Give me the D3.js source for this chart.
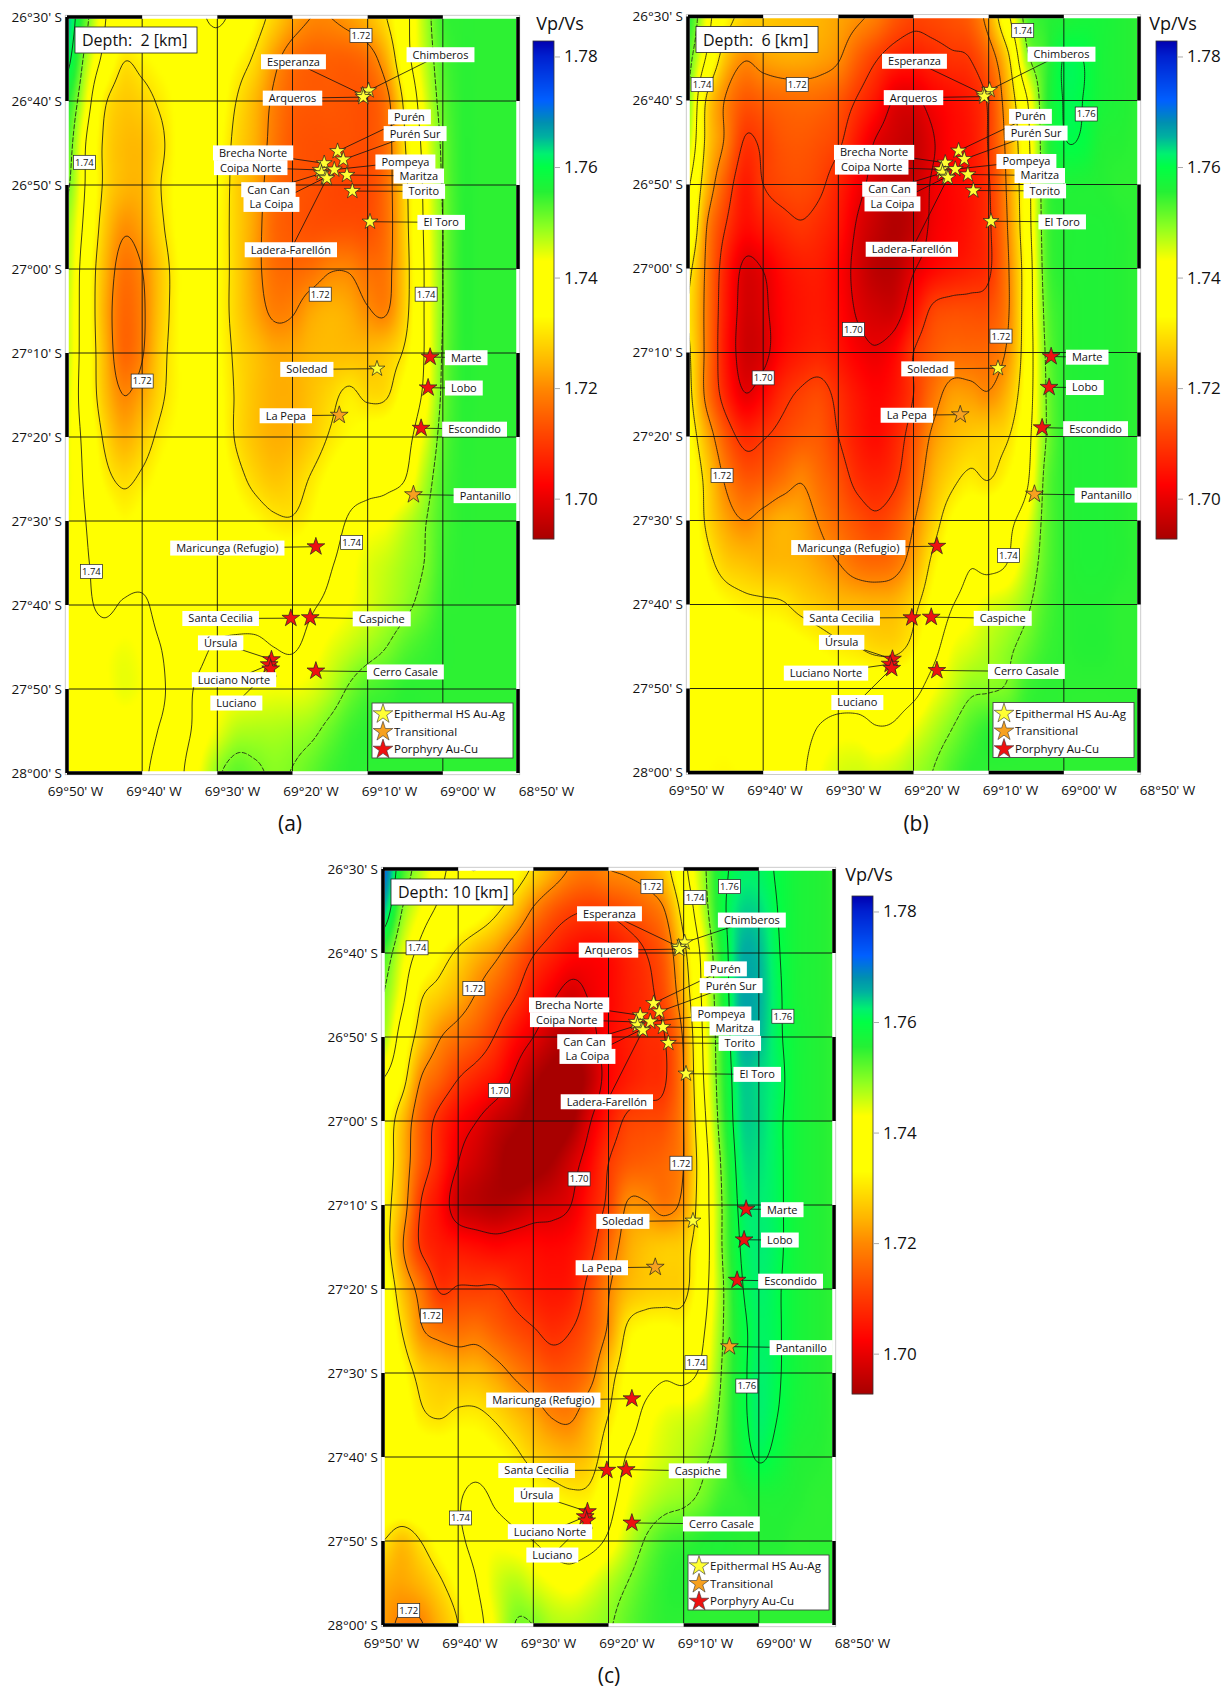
<!DOCTYPE html>
<html>
<head>
<meta charset="utf-8">
<script src="https://cdn.jsdelivr.net/npm/d3@7"></script>
<style>
  body { margin: 0; background: #fff; }
  text { font-family: "Open Sans", sans-serif; fill: #111; }
</style>
</head>
<body>
<svg id="fig" width="1231" height="1688"></svg>
<script>
// Vp/Vs, in thousandths above 1.700
// rows: 26°30' S to 28°00' S every 5', columns: 69°50' W to 68°50' W every 2.5'
const vpvsA = [
  [65,52,40.5,38,37,37,37.5,39,41,38,33,28,23,20,20,22,25,30,38,47,54,55,55,55,55],
  [62,48,38,30.5,32,34,35,36,36,33,29,22,17,15,15,15,17,24,37,46,53,55,55,55,55],
  [56,44,31,27,28,31,34,35,35,30,25,19,15,14,14,13.5,13.5,18,32,44,52,55,55,55,55],
  [53,40,29,25.5,25.5,29,34,35,34,28.5,24,18,14,13,13,13,13,17,30,42,51,55,55,55,55],
  [51,39.5,29,25,25,30,34,35,33.5,28,23,17,14,13,12,11.5,12,17,28.5,41,50.5,55,55,55,55],
  [48,38,27,21,23,29,34,35,33,28,22.5,16,14,13,13,13,13,17,28,40.5,50,55,55,55,55],
  [47,36,25,17.5,20,27,33,35,33,28,22,17,16,17,19.5,19.5,17,18,27.5,40,50,55,55,55,55],
  [46,36,24,16,19,27,33,35,33,28,23,19,19.5,23,24.5,23.5,20.5,19.5,28,40,50,55,55,55,55],
  [46,36,25,16,19.5,28,33,35,33.5,29,26,23.5,23.5,25,25.5,25.5,25.5,27,31,40,50.5,55,55,55,55],
  [45,36,26,20,23,29,33,35,34,29.5,26,24,24,26,28.5,31,29,29.5,35,41,51,55,55,55,55],
  [44,38,29,24,27,31.5,34,35.5,34.5,29.5,26,24,24.5,27,30.5,33,35,36,38,44,52,55,55,55,55],
  [44,39,32,29,31,34,36,37,36,32,28.5,26.5,27.5,30.5,34,37,38,38.5,40,47,53,55,55,55,55],
  [43.5,40,36,33,34.5,36,37,38,37.5,35,33,31,30.5,33,37,40.5,42,43,46,49.5,53.5,55,55,55,55],
  [43,40.5,38,37,37,37,37.5,38,38,37.5,36.5,36,36,37.5,39.5,42,44.5,46,48,50,54,55,55,55,55],
  [43,41,39,40.5,41,38,37.5,37.5,37.5,37.5,37.5,37.5,38,39.5,41,43,45,47,49,51.5,54.5,55,55,55,55],
  [42.5,42.5,42.5,43.5,42.5,40,38,39,40.5,41,41,40,39.5,41.5,44,46,48,50,52.5,54,55,55,55,55,55],
  [41.5,41.5,42.5,44,43,40.5,39,40.5,42,42.5,43,43.5,43.5,44.5,47,50.5,53,54,55,55,55,55,55,55,55],
  [41,41,41,41.5,41,39.8,39,41,44,47,47.5,47.5,48,49,51.5,54,55,55,55,55,55,55,55,55,55],
  [41,41,41,41,40.3,39.5,39.5,43,49,52,50.8,49.5,50.2,52,54,55,55,55,55,55,55,55,55,55,55]
];
const vpvsB = [
  [56,43,33,28,27,26,25.5,24.5,23,21,18.5,14,11.5,12,13,15,23,38,52,55,56,57,57,56,55],
  [52,39,26,20.5,22.5,23.5,23.5,22.5,20.5,15,10.5,7,6,7.5,9,10,16,28,48,54,60.2,60,57,56,55],
  [50,29,19.5,14,15,16,16.5,16,14,9.5,5,-0.5,-1,2,4,6,11,24,39,54,60.2,60,57,56,55],
  [47,28,19,9.5,11,13.5,14,13,11,5,-0.5,-3,-4,-0.5,3,5,10.5,22,37,53.5,59.6,59.4,56,55.5,55],
  [41,25,14,6,10,12,12.5,11,7,2,-2,-4.5,-3.5,0.5,3,5,9.5,21,36,53,56,56,55.5,55,55],
  [39,20,10,4,6,8,9.5,8,5,-0.5,-4,-6,-4,1,3,5,9,20,35.5,52.5,55.5,56,56,55.5,55],
  [32,18.5,6.5,-1,0.2,4,6,6,3,-1.5,-5,-5,-0.5,3,5,6.5,9,19,34,52,55.5,56,56,55.5,55],
  [30,18,5.5,-2,-1,3,5,5.5,3.5,-0.5,-2.5,-2.5,4,11,12.5,12.5,13,19,34,51,55,56,56,55.5,55],
  [31,18,5,-2.5,-1.5,3.5,6,7,5,2,0.5,3,10,14,16,16,16.5,21,34,50,55,56,56,55.5,55],
  [32,18,7,0.3,3,8,10.8,12,8.5,5,3,5,10,17,22,22,20.5,25,35,49.5,55,56,56,55.5,55],
  [34,24,14,8,9.5,12,14,14,10,6,4,7,13,21,25,27,28,29.5,37,49.5,55,56,56,55.5,55],
  [36,28,19,14,14.5,17,19.5,16.5,13,8.5,7,9,15.5,24,28.5,31,29.8,33,38.5,51,55,56,56,55.5,55],
  [37,29,23,20,22,24,23,19.5,16,13,11,13.5,19.5,27,33,36,37,38.5,43,51.5,55,56,56,55.5,55],
  [38,32,27.5,26,25,25,24.5,22.5,20,17,16,17.5,23,31,36,39.5,38.5,40,46,52,55,56,56,55.5,55],
  [38,35,33,31.5,31,30.5,28.5,27,25.5,25,24.5,25,28.5,34,39.5,42,44.5,46,49,53,55,55.5,55.5,55,55],
  [37.5,37,37,36,35,35,34,32.5,31,30,28.5,28.5,31.5,37.5,43,45,47,49,51.5,54,55,55.5,55.5,55,55],
  [35,35,35.5,36,36,36,36.5,36.5,36.5,36.5,36.5,36.5,38,42.5,46,49,49.5,50.5,54,55,55,55,55,55,55],
  [34,34,34,35,36,37,38,40.5,42,42,40.5,41,44,47,50,53,55,55,55,55,55,55,55,55,55],
  [34,33,32.5,33.5,35,37,39,43,45,45.5,45,46,48,50,53,55,55,55,55,55,55,55,55,55,55]
];
const vpvsC = [
  [72,55,47,41,39.5,40,37,34,29,24,19.5,18,20,21,23,27.5,38,48,58,61.5,61.5,59.5,57,56,55],
  [65,50,43,39,37,35,31,26,19,14,11,10,11,13,15.5,20,33,46,58,63.5,63.5,60,57,56,55],
  [54,45,38,33,29,25,21.5,16,10.5,7,4,3,4,7,10,15,28,42,56,65,65,60.5,57,56,55],
  [50,42,31,27.5,24,19.5,15,10.5,5,1,-2,0.5,3,6,8.5,13,25,41,55,65.5,65.5,61,57,56,55],
  [48,37,27,20.5,17,14,9.5,4,0,-4,-6,-2,3,6,8,10,21,40,54,65,65,61,57.5,56,55],
  [40,33,20,15,10,7,4,-1,-6,-9,-10,-5,2.5,6,8,9.5,20,39,53.5,63.5,63.5,61.5,57.5,56,55],
  [35,26,15,8,3,0,-3.5,-6,-9,-11,-8,-0.5,6,11,12,13,20,37,52.5,63,63.5,61,57.5,56,55],
  [35,25,14,7,0,-3,-6,-9,-9,-7,-2.5,3,10,14,15,16,20,35,50.5,62,63,61,57.5,56,55],
  [33,24,10,4,-3,-5,-6,-5,-3,-2,0,5.5,11.5,20.5,20.5,18,22,35,49.5,61,62.5,61,57.5,56,55],
  [34,21,9.5,6,5,4,3,3.5,3.5,3,4,8,16,23,26,27,28,35,49.5,60,62.5,61,57.5,56,55],
  [37,26,17.5,9.5,10.5,10.5,10.5,8,6,5,6,12,19.5,25,27,27.5,28.5,36.5,48.5,59,62,60.5,57.5,56,55],
  [38.5,30,21,18,17,17.5,15,12.5,10.5,8.5,10,14,21,31,33.5,34,33.5,39,49,58,61.5,60.5,57.5,56,55],
  [39,34,28,26,25,25,22.5,19,16,13.5,14,17.5,27,33.5,37,39,38,41.5,50,58,62,60.5,57.5,56,55],
  [39,36,31,29.5,31,31,29,26,23,19.5,19,24,30,36,41.5,44,45,46.5,51,58,62,60,57,56,55],
  [38.5,37,36,36,36,36,34,31.5,28,26,25,27,34,40.5,43.5,45.5,47,49,52,57,60.5,58.5,56,55.5,55],
  [38,38,38,38.5,39.5,42,39,37,35,33,31.5,32,37.5,43,46,48,49,51,54,55,56,56,55.5,55,55],
  [30,26,30,34.5,38.5,42,42.5,41.5,40,38,37.5,38,41,46,50.5,53.5,54.5,55.5,56,55.5,55.5,55.5,55,55,55],
  [24,23,25,29,34,40,45,47,45,43,42,44,47,50,53,55,55.5,55,55,55,55,55,55,55,55],
  [22,19,19.5,24.5,30,37.5,44,50,50,47.5,47,48,49.5,52,54,55,55,55,55,55,55,55,55,55,55]
];

// deposits: lon in minutes west of 69°, lat in minutes south of 26°
const siteNames = ["Chimberos","Esperanza","Arqueros","Purén","Purén Sur","Brecha Norte","Coipa Norte","Can Can","La Coipa","Pompeya","Maritza","Torito","El Toro","Ladera-Farellón","Soledad","Marte","Lobo","La Pepa","Escondido","Pantanillo","Maricunga (Refugio)","Santa Cecilia","Caspiche","Úrsula","Luciano Norte","Luciano","Cerro Casale"];
const siteLon  = [9.87,10.67,10.58,14,13.24,15.78,16.31,16.13,15.56,14.44,12.76,12.04,9.69,15.42,8.76,1.69,1.96,13.78,2.89,3.91,16.89,20.22,17.64,22.8,23.1,22.9,16.89];
const siteLat  = [38.75,39.26,39.54,45.98,46.98,47.42,48.21,48.61,49.09,48.17,48.81,50.72,54.37,49.2,71.87,70.48,74.14,77.4,78.95,86.86,93.06,101.57,101.5,106.5,107.1,107.6,107.85];
const siteType = ["E","E","E","E","E","E","E","E","E","E","E","E","E","E","E","P","P","T","P","T","P","P","P","P","P","P","P"];
// where each name tag sits, same units
const tagLon = [0.31,19.87,20,4.44,3.69,25.24,25.56,23.2,22.8,4.98,3.2,2.53,0.22,20.22,18.09,-3.11,-2.8,20.89,-4.22,-5.64,28.67,29.56,8.13,29.56,27.78,27.47,4.98];
const tagLat = [34.49,35.33,39.66,41.89,43.88,46.18,47.93,50.56,52.31,47.26,48.93,50.76,54.45,57.71,71.95,70.56,74.17,77.47,79.07,86.98,93.22,101.61,101.65,104.51,108.89,111.67,107.97];

const typeNames = ["Epithermal HS Au-Ag","Transitional","Porphyry Au-Cu"];
const typeKeys = ["E","T","P"];
const typeFill = {E: "#ffff33", T: "#f7a11f", P: "#ee1111"};

// contour tags per panel: level, lon, lat
const tagsA = [[1.72,10.89,32.19],[1.74,47.69,47.3],[1.72,16.31,63],[1.74,2.22,63],[1.72,40,73.34],[1.74,12.13,92.55],[1.74,46.76,96]];
const tagsB = [[1.74,48.13,38.11],[1.72,35.47,38.11],[1.76,-2.98,41.61],[1.74,5.47,31.67],[1.7,28,67.26],[1.72,8.36,68.05],[1.7,40,73.02],[1.72,45.47,84.63],[1.74,7.38,94.17]];
const tagsC = [[1.72,14.22,32.1],[1.76,3.91,32.1],[1.74,8.49,33.38],[1.74,45.47,39.38],[1.72,37.91,44.23],[1.76,-3.2,47.53],[1.7,34.49,56.36],[1.72,10.36,65.03],[1.7,23.91,66.9],[1.72,43.56,83.2],[1.74,8.36,88.77],[1.76,1.6,91.55],[1.74,39.69,107.26],[1.72,46.58,118.27]];

const lonTicks = [50,40,30,20,10,0,-10];
const latTicks = [30,40,50,60,70,80,90,100,110,120];
const barTicks = [1.78,1.76,1.74,1.72,1.70];
const levels = [1.70,1.71,1.72,1.73,1.74,1.75,1.76];

// colour table of the bar
const barValues = [1.6927,1.70,1.7025,1.712,1.72,1.724,1.733,1.743,1.749,1.7555,1.76,1.7624,1.7655,1.768,1.772,1.78,1.7828];
const barColors = ["#a80000","#e80000","#ff0000","#ff4800","#ff8800","#ffb000","#ffff00","#ffff00","#90ff20","#25f035","#00ff45","#00f070","#00b0a0","#0090b0","#0060ff","#0020d0","#0000b0"];
const color = d3.scaleLinear().domain(barValues).range(barColors).clamp(true);

const plotW = 451, plotH = 756;
const panels = [
  {grid: vpvsA, depth: "Depth:  2 [km]", cap: "(a)", x: 67, y: 17, tags: tagsA, barX: 533, barY: 41, capX: 290, titleDx: 27, titleDy: 11},
  {grid: vpvsB, depth: "Depth:  6 [km]", cap: "(b)", x: 688, y: 16.5, tags: tagsB, barX: 1156, barY: 41, capX: 916, titleDx: 17, titleDy: 11, moved: {"Luciano Norte": [31.64,108.17]}},
  {grid: vpvsC, depth: "Depth: 10 [km]", cap: "(c)", x: 383, y: 869, tags: tagsC, barX: 852, barY: 896, capX: 609, titleDx: 17, titleDy: 15, moved: {"Chimberos": [0.93,36.08]}}
];

const svg = d3.select("#fig");
const star = d3.symbol().type(d3.symbolStar);

// Catmull-Rom through the read values, so the field is smooth on screen
function cubic(a, b, c, d, t) {
  return b + 0.5 * t * (c - a + t * (2 * a - 5 * b + 4 * c - d + t * (3 * (b - c) + d - a)));
}
function resample(grid, W, H) {
  const nr = grid.length, nc = grid[0].length;
  const out = new Float64Array(W * H);
  const cl = (v, n) => Math.max(0, Math.min(n - 1, v));
  for (let j = 0; j < H; j++) {
    const fr = (j + 0.5) / H * (nr - 1), r = Math.floor(fr), tr = fr - r;
    for (let i = 0; i < W; i++) {
      const fc = (i + 0.5) / W * (nc - 1), c = Math.floor(fc), tc = fc - c;
      const col = [-1, 0, 1, 2].map(k => {
        const row = grid[cl(r + k, nr)];
        return cubic(row[cl(c - 1, nc)], row[cl(c, nc)], row[cl(c + 1, nc)], row[cl(c + 2, nc)], tc);
      });
      out[j * W + i] = 1.7 + cubic(col[0], col[1], col[2], col[3], tr) / 1000;
    }
  }
  return out;
}

panels.forEach((p, idx) => {
  const x = d3.scaleLinear().domain([50, -10]).range([p.x, p.x + plotW]);
  const y = d3.scaleLinear().domain([30, 120]).range([p.y, p.y + plotH]);
  const g = svg.append("g");

  // raster
  const W = 226, H = 378;
  const field = resample(p.grid, W, H);
  const cv = document.createElement("canvas");
  cv.width = W; cv.height = H;
  const ctx = cv.getContext("2d");
  const img = ctx.createImageData(W, H);
  field.forEach((v, k) => {
    const c = d3.rgb(color(v));
    img.data[k * 4] = c.r; img.data[k * 4 + 1] = c.g; img.data[k * 4 + 2] = c.b; img.data[k * 4 + 3] = 255;
  });
  ctx.putImageData(img, 0, 0);
  g.append("image").attr("href", cv.toDataURL())
    .attr("x", p.x).attr("y", p.y).attr("width", plotW).attr("height", plotH)
    .attr("preserveAspectRatio", "none");

  // graticule
  g.selectAll(".vl").data(lonTicks.slice(1, -1)).enter().append("line")
    .attr("x1", d => x(d)).attr("x2", d => x(d)).attr("y1", p.y).attr("y2", p.y + plotH)
    .attr("stroke", "#111").attr("stroke-width", 0.9);
  g.selectAll(".hl").data(latTicks.slice(1, -1)).enter().append("line")
    .attr("x1", p.x).attr("x2", p.x + plotW).attr("y1", d => y(d)).attr("y2", d => y(d))
    .attr("stroke", "#111").attr("stroke-width", 0.9);

  // contours, the 1.75 line is broken in the picture
  const fx = d3.scaleLinear().domain([0, W]).range([p.x, p.x + plotW]);
  const fy = d3.scaleLinear().domain([0, H]).range([p.y, p.y + plotH]);
  const path = d3.geoPath(d3.geoTransform({point(a, b) { this.stream.point(fx(a), fy(b)); }}));
  const clipId = "clip" + idx;
  g.append("clipPath").attr("id", clipId).append("rect")
    .attr("x", p.x).attr("y", p.y).attr("width", plotW).attr("height", plotH);
  g.append("g").attr("clip-path", `url(#${clipId})`)
    .selectAll("path").data(d3.contours().size([W, H]).thresholds(levels)(field)).enter().append("path")
    .attr("d", path).attr("fill", "none").attr("stroke", "#111").attr("stroke-width", 0.8)
    .attr("stroke-dasharray", d => d.value === 1.75 ? "5 1.5" : null);

  // map frame, black and white in 10' pieces
  const frame = g.append("g");
  frame.append("rect").attr("x", p.x).attr("y", p.y).attr("width", plotW).attr("height", plotH)
    .attr("fill", "none").attr("stroke", "#fff").attr("stroke-width", 3.5);
  frame.append("rect").attr("x", p.x - 1.8).attr("y", p.y - 1.8).attr("width", plotW + 3.6).attr("height", plotH + 3.6)
    .attr("fill", "none").attr("stroke", "#aaa").attr("stroke-width", 0.6);
  d3.pairs(lonTicks).forEach(([a, b], i) => {
    if (i % 2) return;
    [p.y, p.y + plotH].forEach(yy => frame.append("line").attr("x1", x(a)).attr("x2", x(b)).attr("y1", yy).attr("y2", yy)
      .attr("stroke", "#000").attr("stroke-width", 3.5));
  });
  d3.pairs(latTicks).forEach(([a, b], i) => {
    if (i % 2) return;
    [p.x, p.x + plotW].forEach(xx => frame.append("line").attr("x1", xx).attr("x2", xx).attr("y1", y(a)).attr("y2", y(b))
      .attr("stroke", "#000").attr("stroke-width", 3.5));
  });

  // axis text; the lon labels in the picture are spaced a little wider than the ticks
  const lonText = d3.scaleLinear().domain([50, -10]).range([p.x + 8, p.x + 479]);
  const bottom = g.append("g").attr("transform", `translate(0,${p.y + plotH + 10})`)
    .call(d3.axisBottom(lonText).tickValues(lonTicks).tickSize(0)
      .tickFormat(d => d === -10 ? "68°50' W" : `69°${d === 0 ? "00" : d}' W`));
  bottom.select(".domain").remove();
  bottom.selectAll("text").style("font-size", "13.5px").style("font-family", '"Open Sans", sans-serif');

  const left = g.append("g").attr("transform", `translate(${p.x - 5},0)`)
    .call(d3.axisLeft(y).tickValues(latTicks).tickSize(0).tickPadding(0)
      .tickFormat(d => d >= 120 ? "28°00' S" : d >= 60 ? `27°${d === 60 ? "00" : d - 60}' S` : `26°${d}' S`));
  left.select(".domain").remove();
  left.selectAll("text").style("font-size", "13.5px").style("font-family", '"Open Sans", sans-serif');

  // leaders
  const tagAt = i => {
    const m = p.moved && p.moved[siteNames[i]];
    return m ? [x(m[0]), y(m[1])] : [x(tagLon[i]), y(tagLat[i])];
  };
  g.selectAll(".leader").data(siteNames).enter().append("line")
    .attr("x1", (d, i) => tagAt(i)[0]).attr("y1", (d, i) => tagAt(i)[1])
    .attr("x2", (d, i) => x(siteLon[i])).attr("y2", (d, i) => y(siteLat[i]))
    .attr("stroke", "#111").attr("stroke-width", 0.8);

  // contour tags
  const ct = g.selectAll(".ctag").data(p.tags).enter().append("g")
    .attr("transform", d => `translate(${x(d[1])},${y(d[2])})`);
  ct.append("rect").attr("x", -11).attr("y", -7).attr("width", 22).attr("height", 14)
    .attr("fill", "#fff").attr("stroke", "#222").attr("stroke-width", 0.7);
  ct.append("text").attr("text-anchor", "middle").attr("dy", "0.36em").style("font-size", "9.5px")
    .text(d => d[0].toFixed(2));

  // stars
  g.selectAll(".site").data(siteNames).enter().append("path")
    .attr("d", (d, i) => star.size(siteType[i] === "E" ? 78 : 98)())
    .attr("transform", (d, i) => `translate(${x(siteLon[i])},${y(siteLat[i])})`)
    .attr("fill", (d, i) => typeFill[siteType[i]])
    .attr("stroke", "#222").attr("stroke-width", 0.7);

  // name tags
  const st = g.selectAll(".stag").data(siteNames).enter().append("g")
    .attr("transform", (d, i) => `translate(${tagAt(i)[0]},${tagAt(i)[1]})`);
  const stText = st.append("text").attr("text-anchor", "middle").attr("dy", "0.36em")
    .style("font-size", "11px").text(d => d);
  stText.each(function () {
    const w = this.getComputedTextLength() + 12;
    d3.select(this.parentNode).insert("rect", "text")
      .attr("x", -w / 2).attr("y", -7.5).attr("width", w).attr("height", 15).attr("fill", "#fff");
  });

  // depth box
  g.append("rect").attr("x", p.x + 8).attr("y", p.y + 10).attr("width", 122).attr("height", 26)
    .attr("fill", "#fff").attr("stroke", "#222").attr("stroke-width", 0.8);
  g.append("text").attr("x", p.x + 15).attr("y", p.y + 29).style("font-size", "16px")
    .style("white-space", "pre").text(p.depth);

  // legend
  const lg = g.append("g").attr("transform", `translate(${p.x + 305},${p.y + plotH - 70})`);
  lg.append("rect").attr("width", 141).attr("height", 55).attr("fill", "#fff")
    .attr("stroke", "#444").attr("stroke-width", 0.9);
  typeNames.forEach((t, i) => {
    lg.append("path").attr("d", star.size(120)())
      .attr("transform", `translate(11,${11 + i * 17.7})`)
      .attr("fill", typeFill[typeKeys[i]]).attr("stroke", "#333").attr("stroke-width", 0.6);
    lg.append("text").attr("x", 22).attr("y", 15 + i * 17.7).style("font-size", "11.5px").text(t);
  });

  // colour bar
  const barH = 498;
  const v = d3.scaleLinear().domain([barValues[barValues.length - 1], barValues[0]]).range([p.barY, p.barY + barH]);
  const cb = g.append("g");
  cb.selectAll("rect").data(d3.range(0, barH)).enter().append("rect")
    .attr("x", p.barX).attr("width", 21).attr("y", d => p.barY + d).attr("height", 1.2)
    .attr("fill", d => color(v.invert(p.barY + d + 0.5)));
  cb.append("rect").attr("x", p.barX).attr("y", p.barY).attr("width", 21).attr("height", barH)
    .attr("fill", "none").attr("stroke", "#333").attr("stroke-width", 0.8);
  const ax = g.append("g").attr("transform", `translate(${p.barX + 21},0)`)
    .call(d3.axisRight(v).tickValues(barTicks).tickSize(6).tickPadding(4).tickFormat(d3.format(".2f")));
  ax.select(".domain").remove();
  ax.selectAll("line").attr("stroke", "#aaa");
  ax.selectAll("text").style("font-size", "17px").style("font-family", '"Open Sans", sans-serif');
  g.append("text").attr("x", p.barX + p.titleDx).attr("y", p.barY - p.titleDy).attr("text-anchor", "middle")
    .style("font-size", "18px").text("Vp/Vs");

  // caption
  g.append("text").attr("x", p.capX).attr("y", p.y + plotH + 58).attr("text-anchor", "middle")
    .style("font-size", "21px").text(p.cap);
});
</script>
</body>
</html>
